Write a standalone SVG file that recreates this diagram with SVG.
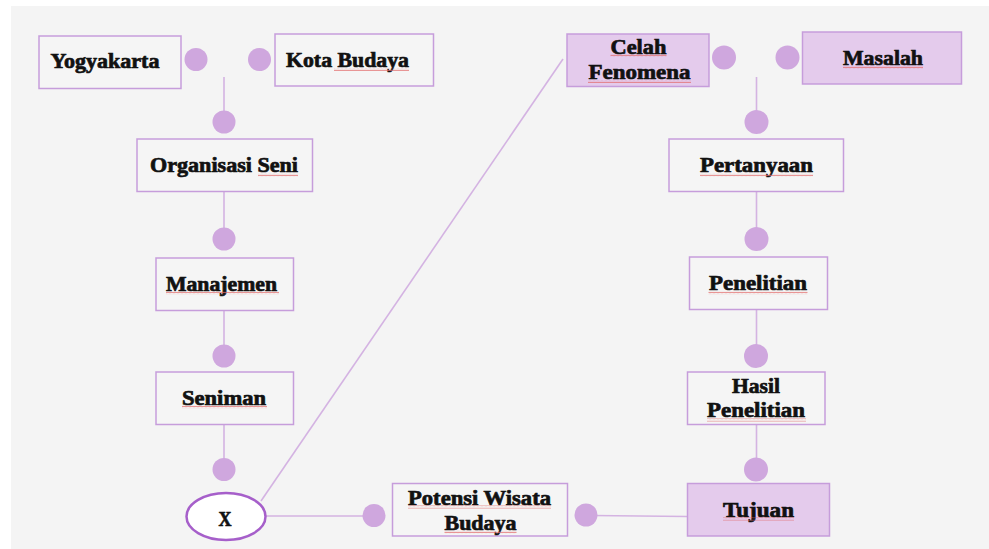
<svg xmlns="http://www.w3.org/2000/svg" width="989" height="549" viewBox="0 0 989 549">
<defs>
<pattern id="sq" width="4" height="3" patternUnits="userSpaceOnUse">
<polyline points="0,2.2 1,0.8 2,2.2 3,0.8 4,2.2" fill="none" stroke="#e36a6a" stroke-width="0.7"/>
</pattern>
</defs>
<style>
.box{fill:#f5f5f5;stroke:#c69ddb;stroke-width:1.5}
.fbox{fill:#e4cbec;stroke:#c69ddb;stroke-width:1.5}
.dot{fill:#cfa7de}
.ln{stroke:#d4b3e2;stroke-width:1.6;fill:none}
.t{font-family:"Liberation Serif","Times New Roman",serif;font-weight:bold;font-size:21px;fill:#111;stroke:#111;stroke-width:0.7;text-anchor:middle}
.sq{fill:url(#sq)}
</style>
<rect x="0" y="0" width="989" height="549" fill="#ffffff"/>
<rect x="11" y="6" width="978" height="543" fill="#f4f4f4"/>

<g id="connectors">
<line class="ln" x1="224" y1="77" x2="224" y2="112"/>
<line class="ln" x1="224" y1="192" x2="224" y2="230"/>
<line class="ln" x1="224" y1="310" x2="224" y2="346"/>
<line class="ln" x1="224" y1="424" x2="224" y2="460"/>
<line class="ln" x1="756.5" y1="77" x2="756.5" y2="112"/>
<line class="ln" x1="756.5" y1="192" x2="756.5" y2="230"/>
<line class="ln" x1="756.5" y1="310" x2="756.5" y2="346"/>
<line class="ln" x1="756.5" y1="424" x2="756.5" y2="460"/>
<line class="ln" x1="261" y1="501" x2="563" y2="59"/>
<line class="ln" x1="266" y1="516" x2="368" y2="516"/>
<line class="ln" x1="592" y1="515.5" x2="687" y2="516.5"/>
<circle class="dot" cx="196" cy="59.5" r="11.5"/>
<circle class="dot" cx="259.5" cy="59.5" r="11.5"/>
<circle class="dot" cx="224" cy="122" r="11.5"/>
<circle class="dot" cx="224" cy="239" r="11.5"/>
<circle class="dot" cx="224" cy="356" r="11.5"/>
<circle class="dot" cx="224" cy="469.5" r="11.5"/>
<circle class="dot" cx="724" cy="57.5" r="12"/>
<circle class="dot" cx="787.5" cy="57.5" r="12"/>
<circle class="dot" cx="756.5" cy="122" r="12"/>
<circle class="dot" cx="756.5" cy="239" r="12"/>
<circle class="dot" cx="756" cy="356" r="12"/>
<circle class="dot" cx="756" cy="469.5" r="12"/>
<circle class="dot" cx="374" cy="515.5" r="11.5"/>
<circle class="dot" cx="586" cy="515" r="11.5"/>
</g>

<g id="yogyakarta">
<rect class="box" x="39" y="36" width="142" height="52.5"/>
<text class="t" x="105" y="68" textLength="109" lengthAdjust="spacingAndGlyphs">Yogyakarta</text>
</g>
<g id="kota-budaya">
<rect class="box" x="275" y="34" width="158.5" height="52"/>
<text class="t" x="347.5" y="66.5" textLength="123" lengthAdjust="spacingAndGlyphs">Kota Budaya</text>
<rect class="sq" x="334" y="68" width="75" height="3"/>
</g>
<g id="organisasi-seni">
<rect class="box" x="137" y="139" width="175.5" height="52.5"/>
<text class="t" x="224" y="172" textLength="148" lengthAdjust="spacingAndGlyphs">Organisasi Seni</text>
<rect class="sq" x="258" y="173.5" width="40" height="3"/>
</g>
<g id="manajemen">
<rect class="box" x="156" y="258" width="137.5" height="52.5"/>
<text class="t" x="221.5" y="290.5" textLength="111" lengthAdjust="spacingAndGlyphs">Manajemen</text>
<rect class="sq" x="166" y="291.5" width="113" height="3"/>
</g>
<g id="seniman">
<rect class="box" x="156" y="372" width="137.5" height="52.5"/>
<text class="t" x="224" y="404.5" textLength="84" lengthAdjust="spacingAndGlyphs">Seniman</text>
<rect class="sq" x="182" y="405.5" width="85" height="3"/>
</g>
<g id="x">
<ellipse cx="226" cy="516.5" rx="39.5" ry="23.5" fill="#ffffff" stroke="#a65fca" stroke-width="2.5"/>
<text class="t" x="225" y="526" font-size="19" textLength="13" lengthAdjust="spacingAndGlyphs">X</text>
</g>
<g id="celah-fenomena">
<rect class="fbox" x="567" y="34" width="142" height="52.5"/>
<text class="t" x="638.5" y="53.5" textLength="56" lengthAdjust="spacingAndGlyphs">Celah</text>
<text class="t" x="639.5" y="78.5" textLength="102" lengthAdjust="spacingAndGlyphs">Fenomena</text>
<rect class="sq" x="610.5" y="54" width="56" height="3"/>
<rect class="sq" x="588" y="80" width="103" height="3"/>
</g>
<g id="masalah">
<rect class="fbox" x="802.5" y="32" width="159" height="52"/>
<text class="t" x="883" y="64.5" textLength="80" lengthAdjust="spacingAndGlyphs">Masalah</text>
<rect class="sq" x="843" y="66" width="80" height="3"/>
</g>
<g id="pertanyaan">
<rect class="box" x="669" y="139" width="174.5" height="52.5"/>
<text class="t" x="756.5" y="172" textLength="113" lengthAdjust="spacingAndGlyphs">Pertanyaan</text>
<rect class="sq" x="700" y="173.5" width="113" height="3"/>
</g>
<g id="penelitian">
<rect class="box" x="689.5" y="257" width="138" height="52.5"/>
<text class="t" x="758" y="290" textLength="98" lengthAdjust="spacingAndGlyphs">Penelitian</text>
<rect class="sq" x="708.5" y="291.5" width="99" height="3"/>
</g>
<g id="hasil-penelitian">
<rect class="box" x="687.5" y="372" width="137.5" height="52.5"/>
<text class="t" x="756" y="393" textLength="48" lengthAdjust="spacingAndGlyphs">Hasil</text>
<text class="t" x="756" y="417" textLength="98" lengthAdjust="spacingAndGlyphs">Penelitian</text>
<rect class="sq" x="707" y="418.5" width="99" height="3"/>
</g>
<g id="potensi-wisata-budaya">
<rect class="box" x="392.5" y="483.5" width="175" height="52.5"/>
<text class="t" x="479.5" y="504.5" textLength="143" lengthAdjust="spacingAndGlyphs">Potensi Wisata</text>
<text class="t" x="480.5" y="529.5" textLength="72" lengthAdjust="spacingAndGlyphs">Budaya</text>
<rect class="sq" x="408" y="505.5" width="143" height="3"/>
<rect class="sq" x="444.5" y="530.5" width="72" height="3"/>
</g>
<g id="tujuan">
<rect class="fbox" x="687.5" y="483.5" width="142" height="52.5"/>
<text class="t" x="758.5" y="516.5" textLength="71" lengthAdjust="spacingAndGlyphs">Tujuan</text>
<rect class="sq" x="723" y="517.5" width="71" height="3"/>
</g>
</svg>
